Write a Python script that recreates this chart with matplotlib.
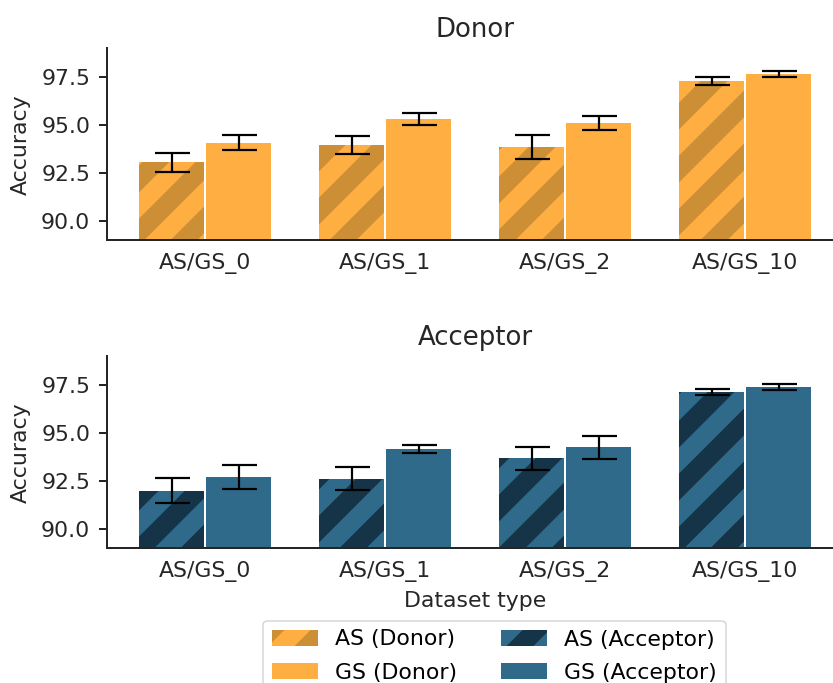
import numpy as np
import matplotlib
matplotlib.use("Agg")
import matplotlib.pyplot as plt

#------------- DATA -------------#
datasets = ["AS/GS_0", "AS/GS_1", "AS/GS_2", "AS/GS_10"]

donor_as = [93.06, 93.95, 93.86, 97.29]
donor_as_err = [0.51, 0.46, 0.60, 0.19]
donor_gs = [94.07, 95.32, 95.11, 97.66]
donor_gs_err = [0.39, 0.30, 0.35, 0.17]

acceptor_as = [92.01, 92.63, 93.68, 97.14]
acceptor_as_err = [0.65, 0.60, 0.60, 0.16]
acceptor_gs = [92.73, 94.18, 94.27, 97.41]
acceptor_gs_err = [0.62, 0.21, 0.60, 0.16]

#------------- STYLE -------------#
# high dpi so the hatch tile gets wide stripes like the original
DPI = 318
W, H = 833, 683


def px(v):
    # pixels -> points
    return v * 72.0 / DPI


ORANGE, ORANGE_DARK = "#ffae42", "#cc8f35"
BLUE, BLUE_DARK = "#2f6a8a", "#153447"
INK = "#262626"

plt.rcParams["font.family"] = "DejaVu Sans"
plt.rcParams["hatch.linewidth"] = px(19)

FS = px(22)
FS_TITLE = px(26)

fig = plt.figure(figsize=(W / DPI, H / DPI), dpi=DPI)

left, width = 107 / W, (843.4 - 107) / W
ax_top = fig.add_axes([left, 1 - 240.3 / H, width, 192 / H])
ax_bot = fig.add_axes([left, 1 - 548.3 / H, width, 192 / H])

x = np.arange(len(datasets))
bw, off = 0.36, 0.186
err_kw = dict(ecolor="black", elinewidth=px(2.2), capthick=px(2.2))


def draw_panel(ax, as_vals, as_err, gs_vals, gs_err, col, col_dark, name, title):
    b1 = ax.bar(x - off, as_vals, bw, yerr=as_err, color=col, edgecolor=col_dark,
                linewidth=0, hatch="//", capsize=px(17.5), error_kw=err_kw,
                label=f"AS ({name})")
    b2 = ax.bar(x + off, gs_vals, bw, yerr=gs_err, color=col, linewidth=0,
                capsize=px(17.5), error_kw=err_kw, label=f"GS ({name})")
    ax.set_ylim(89, 99)
    ax.set_xlim(-0.5456, 3.5456)
    ax.set_yticks([90.0, 92.5, 95.0, 97.5])
    ax.set_xticks(x)
    ax.set_xticklabels(datasets)
    ax.set_title(title, fontsize=FS_TITLE, color=INK, pad=px(11.5))
    ax.set_ylabel("Accuracy", fontsize=FS, color=INK, labelpad=px(10))
    for s in ["top", "right"]:
        ax.spines[s].set_visible(False)
    for s in ["left", "bottom"]:
        ax.spines[s].set_linewidth(px(2))
        ax.spines[s].set_color(INK)
    ax.tick_params(axis="y", length=px(7.7), width=px(2), pad=px(9),
                   labelsize=FS, colors=INK)
    ax.tick_params(axis="x", length=0, pad=px(13), labelsize=FS, colors=INK)
    return b1, b2


d1, d2 = draw_panel(ax_top, donor_as, donor_as_err, donor_gs, donor_gs_err,
                    ORANGE, ORANGE_DARK, "Donor", "Donor")
a1, a2 = draw_panel(ax_bot, acceptor_as, acceptor_as_err, acceptor_gs, acceptor_gs_err,
                    BLUE, BLUE_DARK, "Acceptor", "Acceptor")
ax_bot.set_xlabel("Dataset type", fontsize=FS, color=INK, labelpad=px(9))

leg = fig.legend([d1, d2, a1, a2],
                 ["AS (Donor)", "GS (Donor)", "AS (Acceptor)", "GS (Acceptor)"],
                 loc="upper center", bbox_to_anchor=(494.5 / W, 1 - 620.7 / H),
                 ncol=2, fontsize=FS, borderaxespad=0, borderpad=0.4,
                 handlelength=2.1, handleheight=0.79, handletextpad=0.77,
                 columnspacing=2.0, labelspacing=0.6, frameon=True)
leg.get_frame().set_linewidth(px(1.5))

fig.savefig("out.png", dpi=DPI)
